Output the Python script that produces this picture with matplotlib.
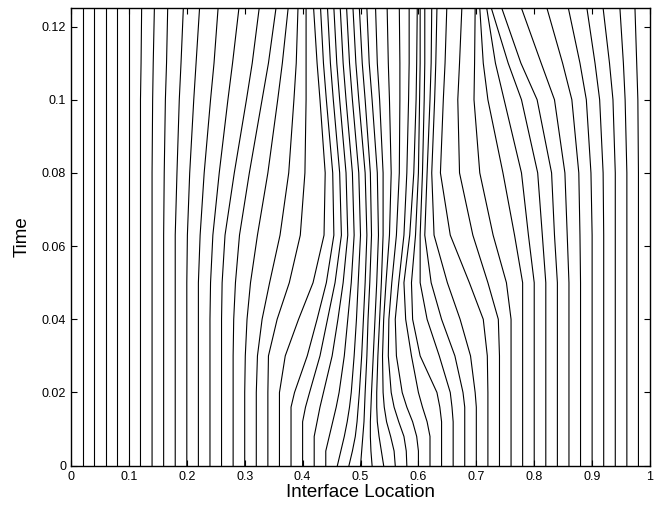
import matplotlib
matplotlib.use('Agg')
import matplotlib.pyplot as plt

plt.rcParams['font.family'] = ['Liberation Sans', 'DejaVu Sans']

# sample times (rows) shared by every interface track
times = [0, 0.004, 0.008, 0.012, 0.016, 0.02, 0.03, 0.04, 0.05, 0.063, 0.08, 0.1, 0.11, 0.125]

# interface positions, one row per interface
tracks = [
    [0.02] * 14,
    [0.04] * 14,
    [0.06] * 14,
    [0.08] * 14,
    [0.10] * 14,
    [0.12] * 12 + [0.121, 0.122],
    [0.14] * 11 + [0.141, 0.142, 0.144],
    [0.16] * 10 + [0.161, 0.163, 0.165, 0.167],
    [0.18] * 10 + [0.183, 0.187, 0.19, 0.194],
    [0.20] * 9 + [0.201, 0.205, 0.212, 0.216, 0.222],
    [0.22] * 8 + [0.22, 0.223, 0.23, 0.241, 0.247, 0.254],
    [0.24] * 8 + [0.241, 0.245, 0.256, 0.271, 0.279, 0.29],
    [0.26] * 8 + [0.261, 0.266, 0.282, 0.303, 0.313, 0.325],
    [0.28] * 7 + [0.281, 0.284, 0.291, 0.308, 0.33, 0.341, 0.354],
    [0.30] * 6 + [0.301, 0.304, 0.31, 0.322, 0.34, 0.357, 0.365, 0.375],
    [0.32] * 6 + [0.322, 0.33, 0.343, 0.361, 0.376, 0.385, 0.389, 0.392],
    [0.34] * 6 + [0.341, 0.356, 0.377, 0.396, 0.404, 0.406, 0.406, 0.406],
    [0.36] * 6 + [0.37, 0.393, 0.418, 0.437, 0.439, 0.43, 0.425, 0.419],
    [0.38] * 5 + [0.386, 0.408, 0.425, 0.441, 0.454, 0.452, 0.441, 0.436, 0.431],
    [0.40] * 4 + [0.405, 0.412, 0.43, 0.443, 0.456, 0.467, 0.464, 0.453, 0.448, 0.443],
    [0.42] * 3 + [0.425, 0.43, 0.436, 0.451, 0.461, 0.47, 0.478, 0.475, 0.464, 0.459, 0.454],
    [0.44] * 2 + [0.446, 0.452, 0.458, 0.463, 0.472, 0.478, 0.484, 0.489, 0.486, 0.475, 0.47, 0.465],
    [0.46, 0.466, 0.472, 0.477, 0.481, 0.484, 0.489, 0.493, 0.496, 0.5, 0.497, 0.486, 0.481, 0.476],
    [0.48, 0.486, 0.491, 0.494, 0.496, 0.498, 0.502, 0.505, 0.508, 0.511, 0.508, 0.497, 0.492, 0.487],
    [0.50, 0.502, 0.504, 0.506, 0.507, 0.508, 0.511, 0.513, 0.516, 0.519, 0.517, 0.508, 0.503, 0.498],
    [0.52, 0.518, 0.517, 0.517, 0.518, 0.519, 0.522, 0.525, 0.528, 0.531, 0.529, 0.52, 0.515, 0.511],
    [0.54, 0.536, 0.532, 0.529, 0.528, 0.528, 0.53, 0.533, 0.536, 0.539, 0.539, 0.533, 0.529, 0.526],
    [0.56, 0.558, 0.552, 0.545, 0.541, 0.539, 0.538, 0.54, 0.544, 0.55, 0.553, 0.55, 0.548, 0.546],
    [0.58, 0.579, 0.575, 0.566, 0.558, 0.553, 0.548, 0.549, 0.554, 0.562, 0.567, 0.568, 0.568, 0.567],
    [0.60, 0.60, 0.597, 0.59, 0.58, 0.572, 0.562, 0.56, 0.566, 0.575, 0.58, 0.583, 0.584, 0.584],
    [0.62, 0.62, 0.62, 0.615, 0.607, 0.60, 0.588, 0.578, 0.575, 0.585, 0.592, 0.596, 0.597, 0.598],
    [0.64, 0.64, 0.64, 0.64, 0.637, 0.632, 0.603, 0.59, 0.588, 0.595, 0.60, 0.602, 0.603, 0.603],
    [0.66] * 4 + [0.658, 0.655, 0.636, 0.615, 0.603, 0.603, 0.607, 0.61, 0.611, 0.611],
    [0.68] * 5 + [0.677, 0.663, 0.64, 0.622, 0.611, 0.615, 0.62, 0.622, 0.623],
    [0.70] * 5 + [0.698, 0.69, 0.672, 0.65, 0.627, 0.623, 0.628, 0.63, 0.632],
    [0.72] * 6 + [0.719, 0.712, 0.688, 0.655, 0.638, 0.643, 0.646, 0.649],
    [0.74] * 7 + [0.738, 0.72, 0.694, 0.671, 0.668, 0.671, 0.675],
    [0.76] * 8 + [0.752, 0.729, 0.706, 0.696, 0.697, 0.698],
    [0.78] * 9 + [0.766, 0.746, 0.72, 0.712, 0.706],
    [0.80] * 9 + [0.79, 0.778, 0.748, 0.733, 0.718],
    [0.82] * 9 + [0.814, 0.806, 0.778, 0.755, 0.726],
    [0.84] * 9 + [0.835, 0.83, 0.805, 0.777, 0.744],
    [0.86] * 9 + [0.857, 0.853, 0.835, 0.812, 0.778],
    [0.88] * 9 + [0.879, 0.877, 0.865, 0.849, 0.822],
    [0.90] * 10 + [0.898, 0.89, 0.879, 0.859],
    [0.92] * 10 + [0.919, 0.913, 0.905, 0.891],
    [0.94] * 10 + [0.94, 0.936, 0.93, 0.919],
    [0.96] * 11 + [0.957, 0.954, 0.948],
    [0.98] * 11 + [0.979, 0.977, 0.974],
]

xticks = [0, 0.1, 0.2, 0.3, 0.4, 0.5, 0.6, 0.7, 0.8, 0.9, 1]
xticklabels = ['0', '0.1', '0.2', '0.3', '0.4', '0.5', '0.6', '0.7', '0.8', '0.9', '1']
yticks = [0, 0.02, 0.04, 0.06, 0.08, 0.1, 0.12]
yticklabels = ['0', '0.02', '0.04', '0.06', '0.08', '0.1', '0.12']

fig = plt.figure(figsize=(6.55, 5.14), dpi=100)
ax = fig.add_axes([0.1084, 0.094, 0.884, 0.89])

for xs in tracks:
    ax.plot(xs, times, color='black', linewidth=0.8)

ax.set_xlim(0, 1)
ax.set_ylim(0, 0.125)
ax.set_xticks(xticks)
ax.set_xticklabels(xticklabels)
ax.set_yticks(yticks)
ax.set_yticklabels(yticklabels)
ax.tick_params(direction='in', top=True, right=True, length=4, width=0.8, labelsize=9)
for s in ax.spines.values():
    s.set_linewidth(1.0)
ax.set_xlabel('Interface Location', fontsize=13.5, labelpad=1)
ax.set_ylabel('Time', fontsize=13.5, labelpad=8)

fig.savefig('out.png', dpi=100)
